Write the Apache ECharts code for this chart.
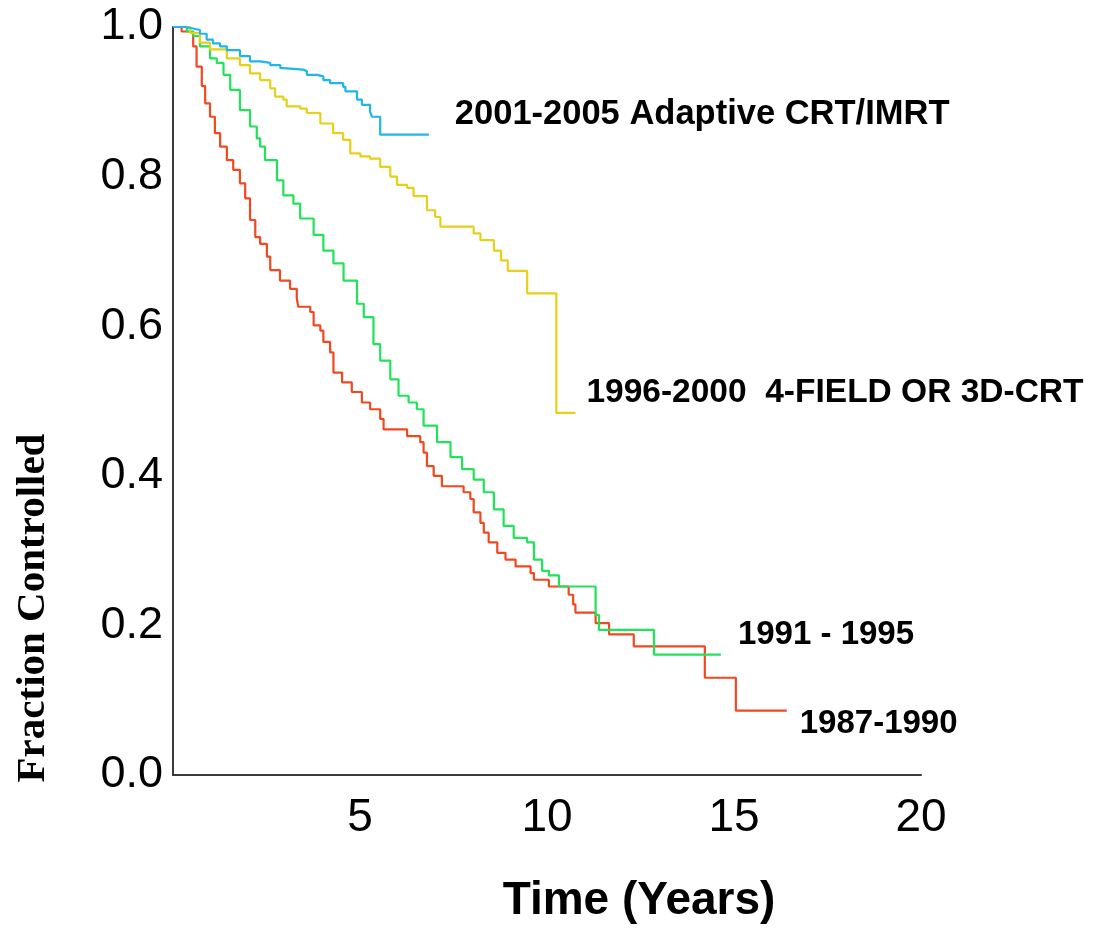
<!DOCTYPE html>
<html>
<head>
<meta charset="utf-8">
<script src="https://cdn.jsdelivr.net/npm/echarts@6/dist/echarts.min.js"></script>
<style>
html,body{margin:0;padding:0;background:#fff;}
#chart{width:1102px;height:933px;}
</style>
</head>
<body>
<div id="chart"></div>
<script>
// ---- data (Kaplan-Meier step points: time in years, fraction controlled) ----
const seriesNames = ['2001-2005 Adaptive CRT/IMRT', '1996-2000  4-FIELD OR 3D-CRT', '1991 - 1995', '1987-1990'];

const t2001 = [0, 0.32, 0.54, 0.72, 0.90, 1.07, 1.26, 1.44, 1.79, 2.06, 2.33, 2.60, 2.87, 2.95, 3.48, 3.58, 3.85, 4.02, 4.20, 4.55, 4.61, 4.92, 5.05, 5.27, 5.32, 5.54, 6.84];
const s2001 = [1.0, 0.998, 0.996, 0.991, 0.983, 0.978, 0.974, 0.969, 0.961, 0.954, 0.952, 0.949, 0.945, 0.943, 0.941, 0.936, 0.934, 0.929, 0.925, 0.920, 0.914, 0.903, 0.896, 0.887, 0.880, 0.856, 0.856];

const t1996 = [0, 0.46, 0.72, 0.99, 1.44, 1.79, 2.06, 2.33, 2.60, 2.73, 2.95, 3.04, 3.40, 3.58, 3.94, 4.28, 4.55, 4.74, 5.01, 5.27, 5.54, 5.81, 5.99, 6.26, 6.43, 6.79, 7.01, 7.15, 8.04, 8.22, 8.58, 8.77, 8.95, 9.47, 10.25, 10.76];
const s1996 = [1.0, 0.992, 0.979, 0.970, 0.958, 0.949, 0.938, 0.929, 0.918, 0.907, 0.903, 0.894, 0.891, 0.885, 0.871, 0.858, 0.849, 0.831, 0.827, 0.824, 0.813, 0.800, 0.789, 0.785, 0.774, 0.755, 0.746, 0.733, 0.724, 0.715, 0.701, 0.688, 0.674, 0.644, 0.484, 0.484];

const t1991 = [0, 0.37, 0.54, 0.72, 0.99, 1.17, 1.35, 1.53, 1.79, 2.06, 2.24, 2.33, 2.46, 2.78, 2.95, 3.22, 3.40, 3.76, 4.02, 4.29, 4.56, 4.92, 5.10, 5.36, 5.54, 5.81, 6.03, 6.30, 6.52, 6.70, 7.06, 7.42, 7.73, 8.04, 8.31, 8.58, 8.84, 9.11, 9.47, 9.65, 9.87, 10.05, 10.32, 11.30, 11.39, 12.86, 14.65];
const s1991 = [1.0, 0.994, 0.988, 0.974, 0.958, 0.952, 0.936, 0.916, 0.889, 0.867, 0.851, 0.840, 0.822, 0.795, 0.775, 0.764, 0.744, 0.722, 0.701, 0.684, 0.661, 0.630, 0.612, 0.576, 0.554, 0.529, 0.507, 0.498, 0.489, 0.467, 0.445, 0.425, 0.409, 0.395, 0.378, 0.355, 0.333, 0.317, 0.311, 0.288, 0.273, 0.267, 0.252, 0.214, 0.194, 0.161, 0.161];

const t1987 = [0, 0.23, 0.46, 0.54, 0.63, 0.77, 0.86, 0.99, 1.12, 1.26, 1.44, 1.61, 1.79, 1.93, 2.06, 2.20, 2.33, 2.51, 2.60, 2.86, 3.13, 3.31, 3.35, 3.67, 3.76, 3.94, 4.02, 4.20, 4.29, 4.52, 4.78, 5.05, 5.27, 5.54, 5.63, 6.26, 6.61, 6.70, 6.79, 6.97, 7.19, 7.77, 7.95, 8.04, 8.22, 8.31, 8.44, 8.67, 8.89, 9.16, 9.56, 9.65, 10.05, 10.58, 10.70, 10.76, 11.30, 11.66, 12.32, 14.22, 15.05, 16.41];
const s1987 = [1.0, 0.994, 0.992, 0.974, 0.947, 0.921, 0.898, 0.880, 0.858, 0.840, 0.822, 0.809, 0.791, 0.771, 0.742, 0.719, 0.710, 0.693, 0.675, 0.661, 0.650, 0.637, 0.626, 0.619, 0.601, 0.594, 0.579, 0.565, 0.538, 0.525, 0.512, 0.498, 0.489, 0.476, 0.462, 0.453, 0.445, 0.431, 0.413, 0.400, 0.386, 0.378, 0.369, 0.351, 0.337, 0.324, 0.311, 0.297, 0.288, 0.279, 0.270, 0.261, 0.252, 0.241, 0.228, 0.217, 0.203, 0.188, 0.172, 0.130, 0.086, 0.086];

const xTicks = [0, 5, 10, 15, 20];
const yTicks = [0, 0.2, 0.4, 0.6, 0.8, 1.0];

const zip = (t, s) => t.map((v, i) => [v, s[i]]);

const colors = ['#1fb6ea', '#e8d01a', '#20e35a', '#f2481f'];
const labelOffsets = [[18, -20], [3, -20], [9, -20], [5, 13]];
const labelSizes = [34.5, 33.5, 33, 33];
const datasets = [zip(t2001, s2001), zip(t1996, s1996), zip(t1991, s1991), zip(t1987, s1987)];

const tickFont = "'Liberation Sans Narrow', 'Arial Narrow', 'Liberation Sans', Arial, sans-serif";
const boldFont = "'Liberation Sans', Arial, sans-serif";

const chart = echarts.init(document.getElementById('chart'), null, {renderer: 'canvas'});
chart.setOption({
  backgroundColor: '#ffffff',
  animation: false,
  grid: {left: 173, right: 181, top: 27, bottom: 158, containLabel: false, outerBoundsMode: 'none'},
  xAxis: {
    type: 'value', min: xTicks[0], max: xTicks[xTicks.length - 1], interval: 5,
    axisLine: {show: true, lineStyle: {color: '#3a3a3a', width: 2}},
    axisTick: {show: false},
    splitLine: {show: false},
    axisLabel: {
      show: true, margin: 20, color: '#000', fontSize: 46, fontFamily: tickFont,
      formatter: v => (v === 0 ? '' : String(v))
    }
  },
  yAxis: {
    type: 'value', min: yTicks[0], max: yTicks[yTicks.length - 1], interval: 0.2,
    axisLine: {show: true, lineStyle: {color: '#3a3a3a', width: 2}},
    axisTick: {show: false},
    splitLine: {show: false},
    axisLabel: {
      show: true, margin: 10, color: '#000', fontSize: 45, fontFamily: tickFont,
      padding: [10, 0, 0, 0],
      formatter: v => v.toFixed(1)
    }
  },
  graphic: [
    {type: 'text', x: 33, y: 608, rotation: Math.PI / 2,
     style: {text: 'Fraction Controlled', fill: '#000', font: "bold 41px 'Liberation Serif', 'Times New Roman', serif", textAlign: 'center', textVerticalAlign: 'middle'}},
    {type: 'text', x: 639, y: 901,
     style: {text: 'Time (Years)', fill: '#000', font: "bold 46px " + boldFont, textAlign: 'center', textVerticalAlign: 'middle'}}
  ],
  series: datasets.map((d, i) => ({
    name: seriesNames[i],
    type: 'line',
    step: 'end',
    data: d,
    symbol: 'none',
    lineStyle: {color: colors[i], width: 2.2},
    z: 10 - i,
    endLabel: {
      show: true, formatter: seriesNames[i], offset: labelOffsets[i],
      color: '#000', fontSize: labelSizes[i], fontWeight: 'bold', fontFamily: boldFont,
      align: 'left', verticalAlign: 'middle'
    }
  }))
});
</script>
</body>
</html>
